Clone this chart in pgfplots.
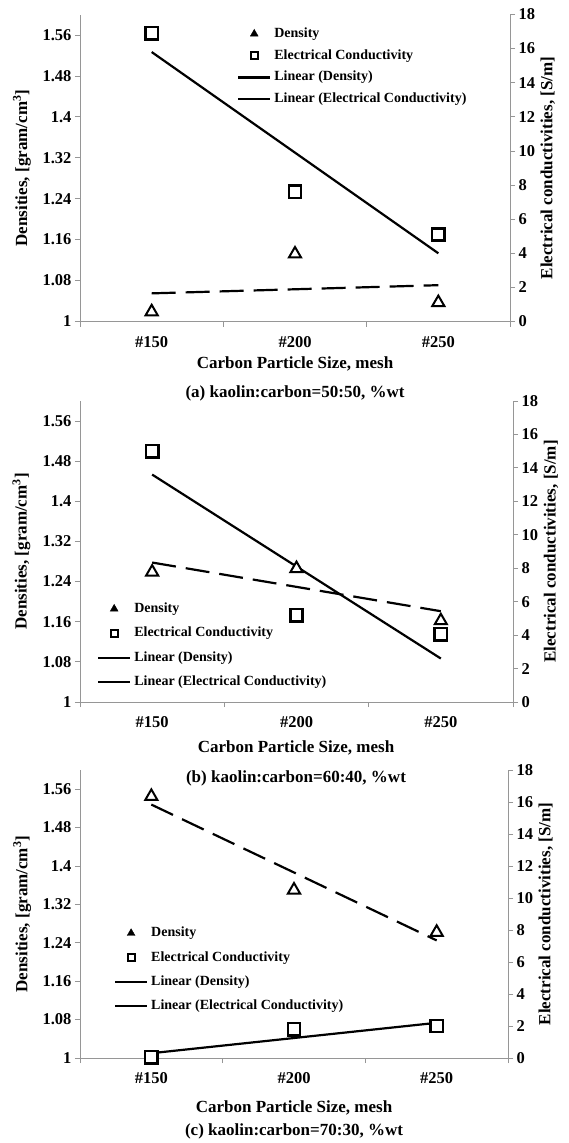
\documentclass[border=0pt]{standalone}
\usepackage{fontspec}
\setmainfont{Liberation Serif}
\usepackage{pgfplots}
\pgfplotsset{compat=1.18}
\definecolor{axgray}{RGB}{150,150,150}
\newcommand\tkf{\fontsize{16.5}{16.5}\selectfont\bfseries}
\newcommand\ttf{\fontsize{17}{17}\selectfont\bfseries}
\newcommand\lgf{\fontsize{14}{14}\selectfont\bfseries}
\pgfplotsset{
  base/.style={scale only axis, xmin=-0.5, xmax=2.5, clip=false,
    tick label style={font=\tkf},
    /pgf/number format/assume math mode=true,
    tick align=outside, major tick length=5pt,
    every tick/.style={axgray, line width=0.8pt},
    axis line style={axgray, line width=0.8pt},
  },
  leftax/.style={base, axis x line*=bottom, axis y line*=left,
    ymin=1, ymax=1.6,
    ytick={1,1.08,1.16,1.24,1.32,1.4,1.48,1.56},
    yticklabels={1,1.08,1.16,1.24,1.32,1.4,1.48,1.56},
    xtick={-0.5,0.5,1.5,2.5}, xticklabels={},
    extra x ticks={0,1,2}, extra x tick labels={\#150,\#200,\#250},
    extra x tick style={major tick length=0pt, tick label style={yshift=-11pt}},
    ylabel={Densities, [gram/cm\textsuperscript{3}]},
    ylabel style={font=\ttf, at={(axis description cs:-0.135,0.5)}, anchor=center},
  },
  rightax/.style={base, axis x line=none, axis y line*=right,
    ymin=0, ymax=18, ytick={0,2,...,18},
    ylabel={Electrical conductivities, [S/m]},
    ylabel style={font=\ttf, at={(axis description cs:1.088,0.5)}, anchor=center},
  },
  hideax/.style={scale only axis, xmin=-0.5, xmax=2.5, ymin=1, ymax=1.6, hide axis, clip=false},
  tri/.style={only marks, mark=triangle*, mark size=7pt, mark options={fill=white, draw=black, line width=2pt}},
  sq/.style={only marks, mark=square*, mark size=6.2pt, mark options={fill=white, draw=black, line width=2.5pt}},
  trendD/.style={black, line width=2.2pt, dash pattern=on 24pt off 10pt, no marks},
  trendE/.style={black, line width=2.2pt, no marks},
  lgd/.style={legend cell align=left,
    legend style={draw=none, fill=none, font=\lgf, anchor=north west, inner sep=0pt,
      nodes={inner sep=1pt, text height=10pt, text depth=3pt}, column sep=2pt}},
  limg/.style={legend image code/.code={
      \draw[black, line width=2.2pt] (0pt,0pt) -- (32pt,0pt);}},
  timg/.style={legend image code/.code={
      \draw[mark=triangle*, mark size=4.5pt, mark options={fill=black, draw=black, solid}] plot coordinates {(16pt,0pt)};}},
  simg/.style={legend image code/.code={
      \draw[mark=square*, mark size=3.6pt, mark options={fill=white, draw=black, line width=2pt, solid}] plot coordinates {(16pt,0pt)};}},
}
\begin{document}
\begin{tikzpicture}
\path[use as bounding box] (0,0) rectangle (569pt,-1143pt);
% ---------------- panel (a)
\begin{axis}[leftax, at={(80pt,-321.5pt)}, anchor=south west, width=430pt, height=307pt]
\addplot[trendD] coordinates {(0,1.055) (2,1.071)};
\end{axis}
\begin{axis}[rightax, at={(80pt,-321.5pt)}, anchor=south west, width=430pt, height=307pt]
\addplot[trendE] coordinates {(0,15.8) (2,4.0)};
\addplot[sq] coordinates {(0,16.9) (1,7.6) (2,5.1)};
\end{axis}
\begin{axis}[hideax, lgd, at={(80pt,-321.5pt)}, anchor=south west, width=430pt, height=307pt,
  legend style={at={(axis description cs:0.365,0.962)}, row sep=6.8pt}]
\addplot[tri, forget plot] coordinates {(0,1.019) (1,1.132) (2,1.037)};
\addlegendimage{timg}\addlegendentry{Density}
\addlegendimage{simg}\addlegendentry{Electrical Conductivity}
\addlegendimage{limg}\addlegendentry{Linear (Density)}
\addlegendimage{limg}\addlegendentry{Linear (Electrical Conductivity)}
\end{axis}
\node[font=\ttf] at (295pt,-364pt) {Carbon Particle Size, mesh};
\node[font=\ttf] at (295pt,-393pt) {(a) kaolin:carbon=50:50, \%wt};
% ---------------- panel (b)
\begin{axis}[leftax, at={(80pt,-702pt)}, anchor=south west, width=433pt, height=301pt]
\addplot[trendD] coordinates {(0,1.278) (2,1.181)};
\end{axis}
\begin{axis}[rightax, at={(80pt,-702pt)}, anchor=south west, width=433pt, height=301pt]
\addplot[trendE] coordinates {(0,13.6) (2,2.6)};
\addplot[sq] coordinates {(0,15.0) (1,5.2) (2,4.06)};
\end{axis}
\begin{axis}[hideax, lgd, at={(80pt,-702pt)}, anchor=south west, width=433pt, height=301pt,
  legend style={at={(axis description cs:0.039,0.335)}, row sep=9.4pt}]
\addplot[tri, forget plot] coordinates {(0,1.259) (1,1.266) (2,1.162)};
\addlegendimage{timg}\addlegendentry{Density}
\addlegendimage{simg}\addlegendentry{Electrical Conductivity}
\addlegendimage{limg}\addlegendentry{Linear (Density)}
\addlegendimage{limg}\addlegendentry{Linear (Electrical Conductivity)}
\end{axis}
\node[font=\ttf] at (296pt,-748pt) {Carbon Particle Size, mesh};
\node[font=\ttf] at (296pt,-778pt) {(b) kaolin:carbon=60:40, \%wt};
% ---------------- panel (c)
\begin{axis}[leftax, at={(80pt,-1058pt)}, anchor=south west, width=428pt, height=288pt]
\addplot[trendD] coordinates {(0,1.528) (2,1.245)};
\end{axis}
\begin{axis}[rightax, at={(80pt,-1058pt)}, anchor=south west, width=428pt, height=288pt]
\addplot[trendE] coordinates {(0,0.3) (2,2.2)};
\addplot[sq] coordinates {(0,0.05) (1,1.8) (2,2.0)};
\end{axis}
\begin{axis}[hideax, lgd, at={(80pt,-1058pt)}, anchor=south west, width=428pt, height=288pt,
  legend style={at={(axis description cs:0.079,0.46)}, row sep=9.3pt}]
\addplot[tri, forget plot] coordinates {(0,1.545) (1,1.35) (2,1.262)};
\addlegendimage{timg}\addlegendentry{Density}
\addlegendimage{simg}\addlegendentry{Electrical Conductivity}
\addlegendimage{limg}\addlegendentry{Linear (Density)}
\addlegendimage{limg}\addlegendentry{Linear (Electrical Conductivity)}
\end{axis}
\node[font=\ttf] at (294pt,-1108pt) {Carbon Particle Size, mesh};
\node[font=\ttf] at (294pt,-1131pt) {(c) kaolin:carbon=70:30, \%wt};
\end{tikzpicture}
\end{document}
